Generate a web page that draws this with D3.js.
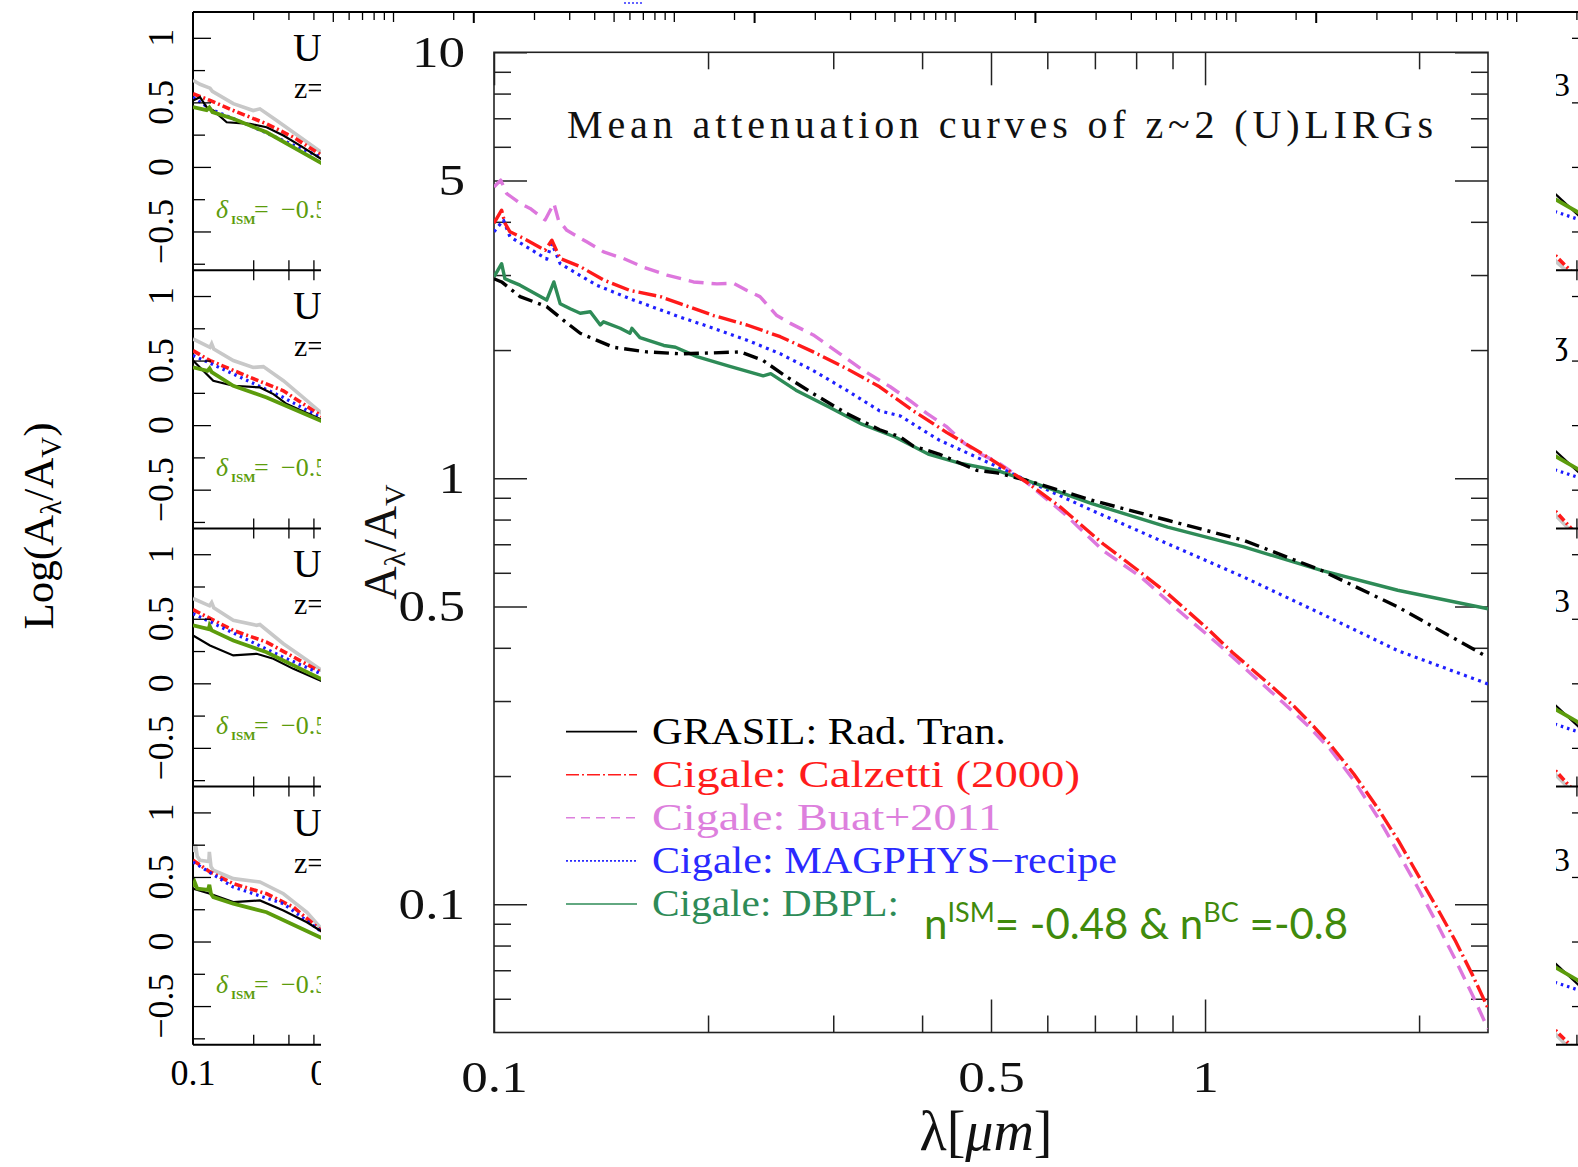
<!DOCTYPE html>
<html>
<head>
<meta charset="utf-8">
<script src="https://cdn.jsdelivr.net/npm/d3@7/dist/d3.min.js"></script>
<style>
  html, body { margin: 0; padding: 0; background: #fff; }
  svg { display: block; }
</style>
</head>
<body>
<svg id="chart" width="1578" height="1167"></svg>
<script>
// ================= main chart: mean attenuation curves =================
// wavelength [micron], A_lambda / A_V
const grasil = [[0.1,2.94],[0.1025,2.89],[0.1088,2.67],[0.1186,2.53],[0.1252,2.35],[0.1322,2.19],[0.1472,2.03],[0.164,1.98],[0.1827,1.96],[0.2036,1.97],[0.2219,1.98],[0.2391,1.89],[0.258,1.73],[0.2812,1.58],[0.3131,1.42],[0.3486,1.30],[0.373,1.25],[0.3888,1.19],[0.4224,1.14],[0.4778,1.044],[0.5094,1.03],[0.56,0.99],[0.693,0.888],[0.886,0.797],[1.134,0.715],[1.457,0.608],[1.866,0.499],[2.5,0.38]];
const calzetti = [[0.1,3.97],[0.1025,4.26],[0.1036,3.97],[0.1053,3.79],[0.11,3.66],[0.118,3.43],[0.1206,3.62],[0.1239,3.28],[0.1322,3.14],[0.1426,2.92],[0.1553,2.76],[0.1713,2.67],[0.1827,2.57],[0.2036,2.41],[0.2269,2.29],[0.2527,2.15],[0.2812,1.98],[0.3131,1.81],[0.3486,1.64],[0.3888,1.44],[0.4335,1.28],[0.4829,1.15],[0.5607,0.98],[0.626,0.856],[0.7185,0.702],[0.8027,0.61],[0.8861,0.536],[1.0027,0.447],[1.093,0.39],[1.22,0.333],[1.33,0.293],[1.42,0.262],[1.5,0.237],[1.62,0.202],[1.75,0.168],[1.87,0.141],[2.0,0.116],[2.12,0.098],[2.25,0.082],[2.38,0.068],[2.5,0.057]];
const buat = [[0.1,4.83],[0.1022,5.01],[0.1042,4.66],[0.1088,4.42],[0.1124,4.30],[0.118,4.04],[0.1214,4.42],[0.1232,4.04],[0.1266,3.82],[0.135,3.59],[0.1426,3.40],[0.1521,3.28],[0.1622,3.13],[0.1751,3.00],[0.1908,2.89],[0.2058,2.86],[0.2171,2.87],[0.2269,2.76],[0.2366,2.67],[0.2499,2.41],[0.2611,2.31],[0.2812,2.17],[0.3066,1.96],[0.331,1.79],[0.3608,1.64],[0.385,1.52],[0.4062,1.42],[0.4335,1.32],[0.4581,1.21],[0.4829,1.14],[0.5116,1.09],[0.56,0.98],[0.634,0.826],[0.7185,0.677],[0.813,0.586],[0.917,0.49],[1.042,0.409],[1.18,0.339],[1.286,0.298],[1.4,0.261],[1.5,0.231],[1.62,0.195],[1.75,0.160],[1.87,0.132],[2.0,0.108],[2.12,0.090],[2.25,0.074],[2.38,0.061],[2.5,0.051]];
const magphys = [[0.1,3.79],[0.1031,4.04],[0.1053,3.69],[0.1186,3.27],[0.1206,3.56],[0.1239,3.19],[0.1394,2.84],[0.1553,2.64],[0.1827,2.39],[0.2036,2.25],[0.2269,2.11],[0.2527,1.96],[0.2812,1.79],[0.3131,1.61],[0.3486,1.44],[0.373,1.40],[0.3888,1.34],[0.4224,1.23],[0.4778,1.12],[0.561,0.989],[0.693,0.841],[0.886,0.702],[1.134,0.586],[1.457,0.481],[1.866,0.394],[2.5,0.329]];
const dbpl = [[0.1,2.97],[0.1025,3.19],[0.1036,2.94],[0.1088,2.84],[0.1186,2.62],[0.1214,2.89],[0.1239,2.57],[0.128,2.50],[0.1322,2.44],[0.1366,2.46],[0.1411,2.29],[0.1426,2.33],[0.1505,2.25],[0.1553,2.19],[0.1563,2.25],[0.1604,2.14],[0.1733,2.05],[0.18,2.03],[0.1929,1.93],[0.2146,1.83],[0.2391,1.74],[0.245,1.76],[0.2658,1.61],[0.2958,1.47],[0.3292,1.34],[0.3665,1.25],[0.4079,1.14],[0.4539,1.083],[0.5094,1.044],[0.56,0.99],[0.693,0.872],[0.886,0.768],[1.134,0.69],[1.457,0.608],[1.866,0.546],[2.5,0.494]];

const mainXMajor = [0.1, 0.5, 1];
const mainXLabels = ["0.1", "0.5", "1"];
const mainXMinor = [0.2, 0.3, 0.4, 0.6, 0.7, 0.8, 0.9, 2];
const mainYMajor = [0.1, 0.5, 1, 5, 10];
const mainYLabels = ["0.1", "0.5", "1", "5", "10"];
const mainYMinor = [0.06, 0.07, 0.08, 0.09, 0.2, 0.3, 0.4, 0.6, 0.7, 0.8, 0.9, 2, 3, 4, 6, 7, 8, 9];

const legendLabels = ["GRASIL: Rad. Tran.", "Cigale: Calzetti (2000)", "Cigale: Buat+2011", "Cigale: MAGPHYS\u2212recipe", "Cigale: DBPL:"];
const legendColors = ["#000000", "#ff1c1c", "#dd80dd", "#2a2aff", "#2e8b57"];
const legendDash = [null, "13,3,2,3", "9,6", "2,2", null];
const legendWidths = [354, 428, 349, 465, 247];

// ================= background multi-panel figure =================
// log(A_lambda/A_V) per panel, first column (4 panels)
const bgGray = [
  [[0.1,0.671],[0.1084,0.64],[0.1216,0.61],[0.125,0.585],[0.159,0.49],[0.2,0.437],[0.216,0.45],[0.2621,0.36],[0.3436,0.23],[0.45,0.10]],
  [[0.1,0.668],[0.1216,0.603],[0.124,0.63],[0.127,0.59],[0.159,0.50],[0.2,0.447],[0.2247,0.453],[0.2831,0.344],[0.45,0.08]],
  [[0.1,0.657],[0.121,0.60],[0.124,0.625],[0.127,0.585],[0.159,0.488],[0.2081,0.449],[0.216,0.455],[0.2831,0.307],[0.45,0.09]],
  [[0.1,0.694],[0.103,0.75],[0.105,0.66],[0.1084,0.629],[0.12,0.62],[0.1207,0.694],[0.123,0.58],[0.1263,0.552],[0.159,0.487],[0.216,0.461],[0.2831,0.37],[0.3711,0.227],[0.45,0.08]]
];
const bgRed = [
  [[0.1,0.567],[0.1216,0.515],[0.159,0.437],[0.2333,0.334],[0.3177,0.23],[0.45,0.08]],
  [[0.1,0.577],[0.1216,0.50],[0.1928,0.37],[0.2831,0.266],[0.45,0.06]],
  [[0.1,0.571],[0.159,0.41],[0.2333,0.319],[0.45,0.075]],
  [[0.1,0.63],[0.1216,0.539],[0.159,0.448],[0.2333,0.37],[0.3177,0.266],[0.45,0.07]]
];
const bgBlue = [
  [[0.1,0.54],[0.1216,0.45],[0.1928,0.32],[0.2831,0.204],[0.45,0.065]],
  [[0.1,0.54],[0.159,0.396],[0.2831,0.214],[0.45,0.045]],
  [[0.1,0.54],[0.159,0.39],[0.2831,0.202],[0.45,0.065]],
  [[0.1,0.616],[0.159,0.422],[0.2831,0.293],[0.45,0.065]]
];
const bgBlack = [
  [[0.1,0.515],[0.1084,0.54],[0.117,0.463],[0.1263,0.437],[0.1474,0.346],[0.1928,0.334],[0.2333,0.307],[0.2831,0.243],[0.3436,0.165],[0.45,0.05]],
  [[0.1,0.50],[0.1084,0.447],[0.1263,0.344],[0.159,0.305],[0.216,0.292],[0.2523,0.24],[0.2942,0.163],[0.45,0.035]],
  [[0.1,0.371],[0.1216,0.293],[0.159,0.216],[0.2081,0.229],[0.2523,0.19],[0.3177,0.112],[0.45,0.01]],
  [[0.1,0.409],[0.1216,0.37],[0.159,0.305],[0.216,0.318],[0.2831,0.24],[0.3711,0.149],[0.4318,0.085],[0.45,0.07]]
];
const bgGreen = [
  [[0.1,0.463],[0.117,0.44],[0.1207,0.46],[0.125,0.425],[0.159,0.373],[0.2333,0.268],[0.45,0.02]],
  [[0.1,0.447],[0.118,0.42],[0.121,0.44],[0.124,0.41],[0.159,0.305],[0.2333,0.214],[0.45,0.025]],
  [[0.1,0.449],[0.12,0.42],[0.121,0.445],[0.124,0.41],[0.159,0.332],[0.2333,0.241],[0.45,0.025]],
  [[0.1,0.422],[0.102,0.46],[0.105,0.41],[0.119,0.40],[0.1207,0.44],[0.123,0.37],[0.1263,0.344],[0.159,0.293],[0.2333,0.227],[0.4318,0.033],[0.45,0.02]]
];
// last column: only its near-infrared end shows at the right
const farGreen = [[[1.45,-0.22],[2.5,-0.43]],[[1.45,-0.21],[2.5,-0.42]],[[1.45,-0.17],[2.5,-0.38]],[[1.45,-0.17],[2.5,-0.38]]];
const farBlack = [[[1.45,-0.16],[2.5,-0.50]],[[1.45,-0.15],[2.5,-0.49]],[[1.45,-0.12],[2.5,-0.46]],[[1.45,-0.12],[2.5,-0.46]]];
const farBlue = [[[1.45,-0.33],[2.5,-0.45]],[[1.45,-0.33],[2.5,-0.45]],[[1.45,-0.30],[2.5,-0.42]],[[1.45,-0.30],[2.5,-0.42]]];
const farRed = [[[1.45,-0.62],[1.6,-0.70],[1.86,-0.80],[2.0,-0.86]],[[1.45,-0.60],[1.6,-0.68],[1.86,-0.79],[2.0,-0.85]],[[1.45,-0.61],[1.6,-0.69],[1.86,-0.80],[2.0,-0.86]],[[1.45,-0.62],[1.6,-0.70],[1.86,-0.80],[2.0,-0.86]]];
const farGray = [[[1.45,-0.66],[1.6,-0.74],[1.8,-0.81],[2.0,-0.90]],[[1.45,-0.62],[1.6,-0.71],[1.8,-0.79],[2.0,-0.88]],[[1.45,-0.64],[1.6,-0.72],[1.8,-0.80],[2.0,-0.89]],[[1.45,-0.65],[1.6,-0.73],[1.8,-0.81],[2.0,-0.90]]];

const bgYMajor = [-0.5, 0, 0.5, 1];
const bgYLabels = ["\u22120.5", "0", "0.5", "1"];
const bgYMinor = [-0.75, -0.25, 0.25, 0.75];
const bgXMinor = [0.2, 0.3, 0.4, 0.6, 0.7, 0.8, 0.9, 2];
const bgXMajor = [0.5, 1];
const bgXLabels = ["0.1", "0.5"];
const bgDelta = ["\u22120.5", "\u22120.5", "\u22120.5", "\u22120.3"];
const farMarks = ["3", "\u0292", "3", "3"];

// ================= drawing =================
const serif = "'Liberation Serif', 'DejaVu Serif', serif";
const svg = d3.select("#chart");
const defs = svg.append("defs");

const colLeft = 193, colPitch = 280.8, colWidth = 279.6;
const rowTop = 12, rowPitch = 258.2;
const bgX = k => d3.scaleLog().domain([0.1, 2.5]).range([colLeft + k * colPitch, colLeft + k * colPitch + colWidth]);
const bgY = i => d3.scaleLinear().domain([-0.8, 1.2]).range([rowTop + (i + 1) * rowPitch, rowTop + i * rowPitch]);

const bg = svg.append("g");
function styleTicks(g, w) {
  g.select(".domain").remove();
  g.selectAll("line").attr("stroke", "#000").attr("stroke-width", w);
  g.selectAll("text").remove();
}

// top axis line running across all columns
bg.append("line").attr("x1", colLeft).attr("x2", 1578).attr("y1", rowTop).attr("y2", rowTop)
  .attr("stroke", "#000").attr("stroke-width", 2);
for (let k = 0; k < 5; k++) {
  const xs = bgX(k);
  bg.append("line").attr("x1", xs(0.1)).attr("x2", xs(0.1)).attr("y1", rowTop).attr("y2", rowTop + 4 * rowPitch)
    .attr("stroke", "#000").attr("stroke-width", 2);
  bg.append("g").attr("transform", `translate(0,${rowTop})`)
    .call(d3.axisBottom(xs).tickValues(bgXMinor).tickSize(8)).call(styleTicks, 1.3);
  bg.append("g").attr("transform", `translate(0,${rowTop})`)
    .call(d3.axisBottom(xs).tickValues(bgXMajor).tickSize(10)).call(styleTicks, 1.3);
}

// panels of the first and the last column
const lineGen = (xs, ys) => d3.line().x(d => xs(d[0])).y(d => ys(d[1]));
const bgStyles = [
  {c: "#c8c8c8", w: 3.6, d: null},
  {c: "#ff1a1a", w: 3.6, d: "8,3,2,3"},
  {c: "#1a1aff", w: 3.2, d: "2.5,4"},
  {c: "#000000", w: 2.2, d: null},
  {c: "#5c9c0c", w: 3.8, d: null}
];
[0, 4].forEach(k => {
  const xs = bgX(k);
  for (let i = 0; i < 4; i++) {
    const ys = bgY(i);
    const top = rowTop + i * rowPitch;
    const yb = top + rowPitch;
    const clipId = `panel-${k}-${i}`;
    defs.append("clipPath").attr("id", clipId).append("rect")
      .attr("x", xs(0.1)).attr("y", top).attr("width", colWidth).attr("height", rowPitch);
    const src = k === 0
      ? [bgGray[i], bgRed[i], bgBlue[i], bgBlack[i], bgGreen[i]]
      : [farGray[i], farRed[i], farBlue[i], farBlack[i], farGreen[i]];
    const pg = bg.append("g").attr("clip-path", `url(#${clipId})`);
    src.forEach((pts, j) => {
      pg.append("path").attr("d", lineGen(xs, ys)(pts)).attr("fill", "none")
        .attr("stroke", bgStyles[j].c).attr("stroke-width", bgStyles[j].w)
        .attr("stroke-dasharray", bgStyles[j].d);
    });
    bg.append("line").attr("x1", k === 0 ? xs(0.1) : 1540).attr("x2", k === 0 ? 340 : 1578).attr("y1", yb).attr("y2", yb)
      .attr("stroke", "#000").attr("stroke-width", 2);
    bg.append("g").attr("transform", `translate(0,${yb})`)
      .call(d3.axisTop(xs).tickValues(bgXMinor.concat(bgXMajor)).tickSize(10)).call(styleTicks, 1.3);
    if (i > 0) bg.append("g").attr("transform", `translate(0,${top})`)
      .call(d3.axisBottom(xs).tickValues(bgXMinor.concat(bgXMajor)).tickSize(10)).call(styleTicks, 1.3);
    if (k === 0) {
      bg.append("g").attr("transform", `translate(${xs(0.1)},0)`)
        .call(d3.axisRight(ys).tickValues(bgYMajor).tickSize(18)).call(styleTicks, 1.3);
      bg.append("g").attr("transform", `translate(${xs(0.1)},0)`)
        .call(d3.axisRight(ys).tickValues(bgYMinor).tickSize(12)).call(styleTicks, 1.3);
      bgYMajor.forEach((v, j) => {
        bg.append("text").attr("transform", `translate(160,${ys(v)}) rotate(-90)`)
          .attr("text-anchor", "middle").attr("dy", "0.35em")
          .attr("font-family", serif).attr("font-size", 36).text(bgYLabels[j]);
      });
      bg.append("text").attr("x", 293).attr("y", top + 49).attr("font-family", serif).attr("font-size", 40).text("U");
      bg.append("text").attr("x", 294).attr("y", top + 86).attr("font-family", serif).attr("font-size", 30).text("z=");
      const dt = bg.append("text").attr("x", 216).attr("y", top + 206).attr("fill", "#5c9c0c")
        .attr("font-family", serif).attr("font-size", 26);
      dt.append("tspan").attr("font-style", "italic").text("\u03b4");
      dt.append("tspan").attr("font-size", 13).attr("font-weight", "bold").attr("dy", 6).attr("x", 231).text("ISM");
      dt.append("tspan").attr("dy", -6).attr("x", 254).text("=");
      dt.append("tspan").attr("x", 281).text(bgDelta[i]);
    } else {
      bg.append("g").attr("transform", `translate(1578,0)`)
        .call(d3.axisLeft(ys).tickValues(bgYMajor).tickSize(6)).call(styleTicks, 1.3);
      bg.append("text").attr("x", 1553).attr("y", top + 84).attr("font-family", serif).attr("font-size", 34).text(farMarks[i]);
    }
  }
});

// bottom labels of the first column
const x0 = bgX(0);
bgXLabels.forEach((t, j) => {
  bg.append("text").attr("x", x0(j === 0 ? 0.1 : 0.5)).attr("y", 1085).attr("text-anchor", "middle")
    .attr("font-family", serif).attr("font-size", 36).text(t);
});
// shared y title of the background figure
const yt = bg.append("text").attr("transform", "translate(38,526) rotate(-90)").attr("text-anchor", "middle")
  .attr("dy", "0.35em").attr("font-family", serif).attr("font-size", 43);
yt.append("tspan").text("Log(A");
yt.append("tspan").attr("font-size", 29).attr("dy", 8).text("\u03bb");
yt.append("tspan").attr("dy", -8).text("/A");
yt.append("tspan").attr("font-size", 29).attr("dy", 8).text("V");
yt.append("tspan").attr("dy", -8).text(")");
bg.append("line").attr("x1", 624).attr("x2", 644).attr("y1", 3).attr("y2", 3)
  .attr("stroke", "#3030ff").attr("stroke-width", 1.5).attr("stroke-dasharray", "2,2");

// ================= white panel carrying the main chart =================
svg.append("rect").attr("x", 321).attr("y", 23).attr("width", 1556 - 321).attr("height", 1167 - 23).attr("fill", "#fff");

const L = 494, R = 1488, T = 52.3, B = 1032.5;
const x = d3.scaleLog().domain([0.1, 2.5]).range([L, R]);
const y = d3.scaleLog().domain([0.05, 10]).range([B, T]);
const main = svg.append("g");

function tickGroup(axis, tx, ty, w) {
  const g = main.append("g").attr("transform", `translate(${tx},${ty})`).call(axis);
  g.select(".domain").remove();
  g.selectAll("line").attr("stroke", "#222").attr("stroke-width", w);
  g.selectAll("text").remove();
  return g;
}
tickGroup(d3.axisRight(y).tickValues(mainYMinor).tickSize(17), L, 0, 1.5);
tickGroup(d3.axisRight(y).tickValues(mainYMajor).tickSize(33), L, 0, 1.5);
tickGroup(d3.axisLeft(y).tickValues(mainYMinor).tickSize(17), R, 0, 1.5);
tickGroup(d3.axisLeft(y).tickValues(mainYMajor).tickSize(33), R, 0, 1.5);
tickGroup(d3.axisTop(x).tickValues(mainXMinor).tickSize(17), 0, B, 1.5);
tickGroup(d3.axisTop(x).tickValues(mainXMajor).tickSize(33), 0, B, 1.5);
tickGroup(d3.axisBottom(x).tickValues(mainXMinor).tickSize(17), 0, T, 1.5);
tickGroup(d3.axisBottom(x).tickValues(mainXMajor).tickSize(33), 0, T, 1.5);

main.append("rect").attr("x", L).attr("y", T).attr("width", R - L).attr("height", B - T)
  .attr("fill", "none").attr("stroke", "#222").attr("stroke-width", 1.6);

// tick labels, glyphs widened a little
function widen(sel, f) {
  sel.each(function () {
    const n = this.getComputedTextLength();
    d3.select(this).attr("textLength", n * f).attr("lengthAdjust", "spacingAndGlyphs");
  });
}
const yl = main.append("g").attr("transform", `translate(${L},0)`)
  .call(d3.axisLeft(y).tickValues(mainYMajor).tickSize(0).tickPadding(29).tickFormat((d, i) => mainYLabels[i]));
yl.select(".domain").remove();
yl.attr("font-family", serif).attr("font-size", 45);
yl.selectAll("text").attr("fill", "#111").call(widen, 1.18);
const xl = main.append("g").attr("transform", `translate(0,${B})`)
  .call(d3.axisBottom(x).tickValues(mainXMajor).tickSize(0).tickPadding(28).tickFormat((d, i) => mainXLabels[i]));
xl.select(".domain").remove();
xl.attr("font-family", serif).attr("font-size", 45);
xl.selectAll("text").attr("fill", "#111").call(widen, 1.18);

// axis titles
const xt = main.append("text").attr("x", 986).attr("y", 1150).attr("text-anchor", "middle")
  .attr("font-family", serif).attr("font-size", 56).attr("fill", "#111");
xt.append("tspan").text("\u03bb[");
xt.append("tspan").attr("font-style", "italic").text("\u03bcm");
xt.append("tspan").text("]");
const ytm = main.append("text").attr("transform", "translate(380,542) rotate(-90)").attr("text-anchor", "middle")
  .attr("dy", "0.35em").attr("font-family", serif).attr("font-size", 46).attr("fill", "#111");
ytm.append("tspan").text("A");
ytm.append("tspan").attr("font-size", 30).attr("dy", 9).text("\u03bb");
ytm.append("tspan").attr("dy", -9).text("/A");
ytm.append("tspan").attr("font-size", 30).attr("dy", 9).text("V");

// title
main.append("text").attr("x", 567).attr("y", 138).attr("font-family", serif).attr("font-size", 40)
  .attr("textLength", 866).attr("lengthAdjust", "spacing").attr("fill", "#111")
  .text("Mean attenuation curves of z~2 (U)LIRGs");

// curves
main.append("clipPath").attr("id", "frameClip").append("rect")
  .attr("x", L).attr("y", T).attr("width", R - L).attr("height", B - T);
const curves = main.append("g").attr("clip-path", "url(#frameClip)");
const line = d3.line().x(d => x(d[0])).y(d => y(d[1]));
const series = [
  {data: buat, color: "#dd77dd", dash: "15,8", w: 3.4},
  {data: magphys, color: "#2020ff", dash: "3,4.5", w: 3.2},
  {data: dbpl, color: "#2e8b57", dash: null, w: 3.4},
  {data: grasil, color: "#000000", dash: "15,6,3,6", w: 3.4},
  {data: calzetti, color: "#ff1a1a", dash: "18,4,2,4", w: 3.4}
];
series.forEach(s => {
  curves.append("path").attr("d", line(s.data)).attr("fill", "none")
    .attr("stroke", s.color).attr("stroke-width", s.w).attr("stroke-dasharray", s.dash)
    .attr("stroke-linejoin", "round");
});

// legend
const legendTop = 731.6, legendStep = 43.1;
legendLabels.forEach((t, i) => {
  const ly = legendTop + i * legendStep;
  main.append("line").attr("x1", 566).attr("x2", 637).attr("y1", ly).attr("y2", ly)
    .attr("stroke", legendColors[i]).attr("stroke-width", 1.6).attr("stroke-dasharray", legendDash[i]);
  main.append("text").attr("x", 652).attr("y", ly + 12).attr("font-family", serif).attr("font-size", 37)
    .attr("textLength", legendWidths[i]).attr("lengthAdjust", "spacingAndGlyphs")
    .attr("fill", legendColors[i]).text(t);
});

// DBPL slopes
const note = main.append("text").attr("x", 924).attr("y", 939).attr("font-family", "Lato, 'Open Sans', sans-serif")
  .attr("font-size", 42).attr("fill", "#3f8a0c");
note.append("tspan").text("n");
note.append("tspan").attr("font-size", 27).attr("dy", -17).text("ISM");
note.append("tspan").attr("dy", 17).text("= -0.48 & n");
note.append("tspan").attr("font-size", 27).attr("dy", -17).text("BC");
note.append("tspan").attr("dy", 17).text(" =-0.8");
</script>
</body>
</html>
